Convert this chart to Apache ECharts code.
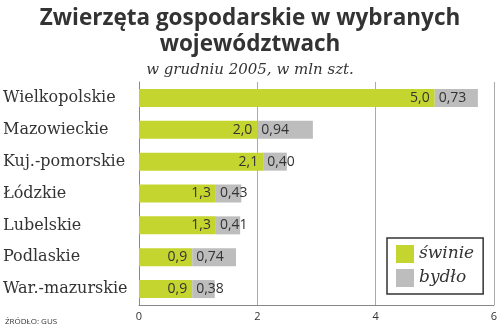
<!DOCTYPE html>
<html><head><meta charset="utf-8">
<script src="https://cdn.jsdelivr.net/npm/echarts@6/dist/echarts.min.js"></script>
<style>html,body{margin:0;padding:0;background:#fff}#c{width:500px;height:325px}</style>
</head><body><div id="c"></div>
<script>
const categories = ['Wielkopolskie','Mazowieckie','Kuj.-pomorskie','Łódzkie','Lubelskie','Podlaskie','War.-mazurskie'];
const swinie = [5.0, 2.0, 2.1, 1.3, 1.3, 0.9, 0.9];
const bydlo = [0.73, 0.94, 0.40, 0.43, 0.41, 0.74, 0.38];
const xTicks = [0, 2, 4, 6];
const fmt = (v, d) => v.toFixed(d).replace('.', ',');

const chart = echarts.init(document.getElementById('c'));
chart.setOption({
  animation: false,
  title: [
    {text: 'Zwierzęta gospodarskie w wybranych\nwojewództwach', left: 'center', top: 1,
     textStyle: {fontFamily: 'Open Sans', fontWeight: 'bold', fontSize: 22.5, color: '#333', lineHeight: 26}},
    {text: 'w grudniu 2005, w mln szt.', left: 'center', top: 58,
     textStyle: {fontFamily: 'DejaVu Serif', fontStyle: 'italic', fontWeight: 'normal', fontSize: 15, color: '#333'}},
    {text: 'ŹRÓDŁO: GUS', left: 0, top: 313,
     textStyle: {fontFamily: 'Open Sans', fontWeight: 'normal', fontSize: 8, color: '#333'}}
  ],
  legend: {
    orient: 'vertical', left: 387, top: 238,
    data: ['świnie', 'bydło'],
    itemWidth: 18, itemHeight: 18, itemGap: 6,
    borderColor: '#333', borderWidth: 1.5, padding: [7, 9, 7, 9],
    icon: 'rect',
    textStyle: {fontFamily: 'DejaVu Serif', fontStyle: 'italic', fontSize: 17, color: '#333'}
  },
  grid: {left: 139, right: 5, top: 82, bottom: 20},
  xAxis: {
    type: 'value', min: 0, max: 6, interval: 2,
    axisLine: {show: true, lineStyle: {color: '#888'}},
    axisTick: {show: false},
    splitLine: {show: true, lineStyle: {color: '#aaa', width: 1}},
    axisLabel: {fontFamily: 'Open Sans', fontSize: 11, color: '#333', margin: 6,
      formatter: v => xTicks.includes(v) ? String(v) : ''}
  },
  yAxis: {
    type: 'category', data: categories, inverse: true,
    axisLine: {show: true, lineStyle: {color: '#888'}},
    axisTick: {show: false},
    axisLabel: {fontFamily: 'DejaVu Serif', fontSize: 16, color: '#333', align: 'left', margin: 136}
  },
  series: [
    {name: 'świnie', type: 'bar', stack: 'a', data: swinie, barWidth: 18,
     itemStyle: {color: '#c4d52f'},
     label: {show: true, position: 'insideRight', distance: 5, fontFamily: 'Open Sans', fontSize: 14, color: '#333',
       formatter: p => fmt(p.value, 1)}},
    {name: 'bydło', type: 'bar', stack: 'a', data: bydlo, barWidth: 18,
     itemStyle: {color: '#bdbdbd'},
     label: {show: true, position: 'insideLeft', distance: 4, fontFamily: 'Open Sans', fontSize: 14, color: '#333',
       formatter: p => fmt(p.value, 2)}}
  ]
});
</script></body></html>
